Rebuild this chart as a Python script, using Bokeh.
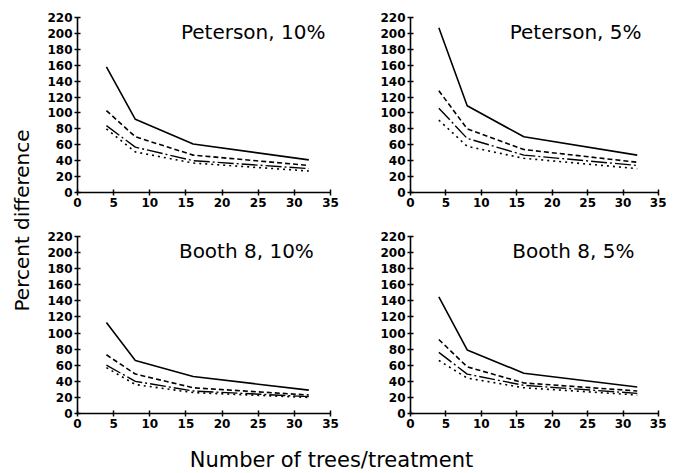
import math
from bokeh.plotting import figure
from bokeh.layouts import row, column
from bokeh.models import Range1d, FixedTicker, Label
from bokeh.embed import file_html
from bokeh.resources import INLINE

# ---------------- data ----------------
trees = [4, 8, 16, 32]
x_ticks = [0, 5, 10, 15, 20, 25, 30, 35]
y_ticks = [0, 20, 40, 60, 80, 100, 120, 140, 160, 180, 200, 220]

titles = ["Peterson, 10%", "Peterson, 5%", "Booth 8, 10%", "Booth 8, 5%"]

pet10_a = [158, 92, 61, 41]
pet10_b = [103, 70, 47, 34]
pet10_c = [84, 57, 40, 30]
pet10_d = [80, 51, 37, 27]

pet5_a = [207, 109, 70, 47]
pet5_b = [128, 80, 54, 38]
pet5_c = [106, 68, 47, 34]
pet5_d = [91, 58, 43, 30]

booth10_a = [113, 66, 46, 29]
booth10_b = [73, 49, 32, 23]
booth10_c = [60, 40, 28, 21]
booth10_d = [57, 36, 26, 20]

booth5_a = [145, 79, 50, 33]
booth5_b = [92, 58, 38, 28]
booth5_c = [76, 49, 35, 25]
booth5_d = [66, 44, 32, 23]

panels_series = [
    [pet10_a, pet10_b, pet10_c, pet10_d],
    [pet5_a, pet5_b, pet5_c, pet5_d],
    [booth10_a, booth10_b, booth10_c, booth10_d],
    [booth5_a, booth5_b, booth5_c, booth5_d],
]

# ---------------- styles ----------------
line_styles = [
    dict(line_dash="solid", line_width=1.6),
    dict(line_dash="5 3", line_width=1.6),
    dict(line_dash="16 3 2 3", line_width=1.4),
    dict(line_dash="2 4", line_width=1.6),
]
title_right = [34.3, 32.6, 32.7, 31.6]
FONT = "DejaVu Sans"


def make_panel(idx, width, height, bl, br, ba, bb):
    p = figure(width=width, height=height, output_backend="svg",
               toolbar_location=None,
               x_range=Range1d(0, 35), y_range=Range1d(0, 220),
               min_border_left=bl, min_border_right=br,
               min_border_top=ba, min_border_bottom=bb)
    p.outline_line_color = None
    p.xgrid.visible = False
    p.ygrid.visible = False
    p.background_fill_color = "white"
    p.border_fill_color = "white"
    for ax, ticks in ((p.xaxis, x_ticks), (p.yaxis, y_ticks)):
        ax.ticker = FixedTicker(ticks=ticks)
        ax.minor_tick_line_color = None
        ax.axis_line_width = 1.6
        ax.axis_line_color = "black"
        ax.major_tick_line_width = 1.5
        ax.major_tick_line_color = "black"
        ax.major_tick_in = 3
        ax.major_tick_out = 3
        ax.major_label_text_font = FONT
        ax.major_label_text_font_style = "bold"
        ax.major_label_text_font_size = "12px"
        ax.major_label_text_color = "black"
    p.xaxis.major_label_standoff = 2
    p.yaxis.major_label_standoff = 2
    for ser, st in zip(panels_series[idx], line_styles):
        p.line(trees, ser, line_color="black", **st)
    p.add_layout(Label(x=title_right[idx], y=217, text=titles[idx],
                       text_align="right", text_baseline="top",
                       text_font=FONT, text_font_size="20px",
                       text_color="black"))
    return p


p1 = make_panel(0, 332, 215, 39, 40, 17, 23)
p2 = make_panel(1, 296, 215, 40, 8, 17, 23)
p3 = make_panel(2, 332, 217, 39, 40, 21, 19)
p4 = make_panel(3, 296, 217, 40, 8, 21, 19)

ylab = figure(width=38, height=472, output_backend="svg", toolbar_location=None,
              x_range=Range1d(0, 38), y_range=Range1d(0, 472),
              x_axis_type=None, y_axis_type=None,
              min_border=0)
ylab.outline_line_color = None
ylab.grid.visible = False
ylab.add_layout(Label(x=21, y=252, text="Percent difference", angle=math.pi / 2,
                      text_align="center", text_baseline="middle",
                      text_font=FONT, text_font_size="20px", text_color="black"))

xlab = figure(width=628, height=40, output_backend="svg", toolbar_location=None,
              x_range=Range1d(0, 628), y_range=Range1d(0, 40),
              x_axis_type=None, y_axis_type=None,
              min_border=0)
xlab.outline_line_color = None
xlab.grid.visible = False
xlab.add_layout(Label(x=293, y=13, text="Number of trees/treatment",
                      text_align="center", text_baseline="middle",
                      text_font=FONT, text_font_size="21px", text_color="black"))

layout = row(ylab, column(row(p1, p2), row(p3, p4), xlab))

with open("out.html", "w") as f:
    f.write(file_html(layout, INLINE))
